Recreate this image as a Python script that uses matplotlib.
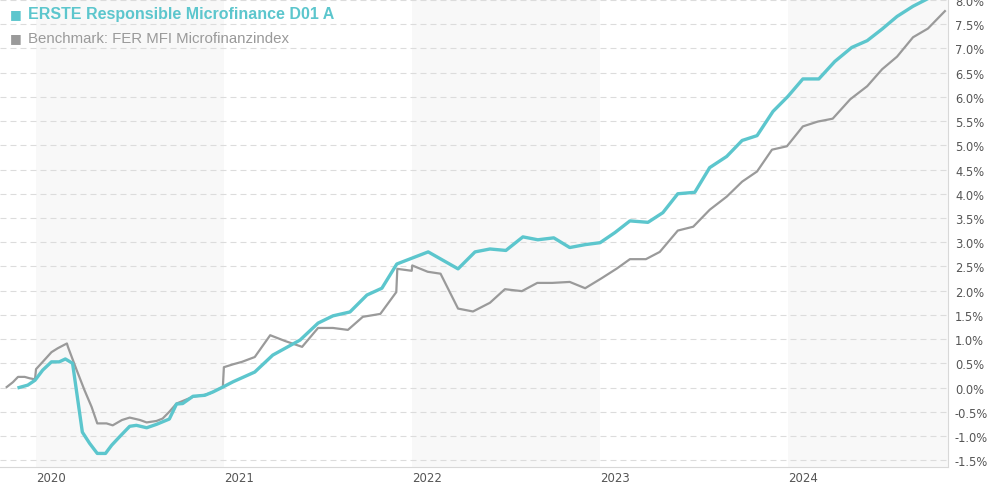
import pandas as pd
import matplotlib
matplotlib.use("Agg")
import matplotlib.pyplot as plt
from matplotlib.ticker import FuncFormatter, MultipleLocator

# Fonds (Wertentwicklung in %)
fund_dates = [
    "2019-11-29", "2019-12-16", "2019-12-30", "2020-01-14", "2020-01-31", "2020-02-15",
    "2020-02-27", "2020-03-12", "2020-03-31", "2020-04-14", "2020-04-29", "2020-05-15",
    "2020-05-27", "2020-06-11", "2020-07-01", "2020-07-14", "2020-08-03", "2020-08-22",
    "2020-09-16", "2020-09-30", "2020-10-12", "2020-11-01", "2020-11-24", "2020-12-10",
    "2020-12-29", "2021-01-18", "2021-03-01", "2021-04-05", "2021-05-28", "2021-07-02",
    "2021-07-31", "2021-09-02", "2021-10-05", "2021-11-03", "2021-12-02", "2022-02-01",
    "2022-03-31", "2022-05-03", "2022-06-01", "2022-07-02", "2022-08-04", "2022-09-02",
    "2022-10-03", "2022-11-03", "2022-12-03", "2023-01-01", "2023-01-30", "2023-02-28",
    "2023-04-04", "2023-05-03", "2023-06-01", "2023-07-04", "2023-08-02", "2023-09-04",
    "2023-10-04", "2023-11-02", "2023-12-03", "2024-01-01", "2024-01-30", "2024-03-01",
    "2024-04-01", "2024-05-04", "2024-06-03", "2024-07-02", "2024-07-31", "2024-08-31",
    "2024-10-03",
]
fund_vals = [
    0.00, 0.05, 0.15, 0.36, 0.53, 0.53,
    0.59, 0.50, -0.92, -1.15, -1.36, -1.36,
    -1.19, -1.02, -0.80, -0.78, -0.83, -0.76,
    -0.65, -0.34, -0.33, -0.18, -0.16, -0.09,
    0.01, 0.12, 0.32, 0.67, 0.98, 1.33,
    1.48, 1.56, 1.91, 2.05, 2.55, 2.80,
    2.45, 2.80, 2.86, 2.83, 3.11, 3.05,
    3.09, 2.89, 2.95, 2.99, 3.20, 3.44,
    3.41, 3.61, 4.00, 4.03, 4.54, 4.77,
    5.10, 5.20, 5.70, 6.01, 6.37, 6.37,
    6.73, 7.02, 7.16, 7.40, 7.66, 7.87,
    8.05,
]

# Benchmark
bench_dates = [
    "2019-11-05", "2019-11-17", "2019-11-27", "2019-12-10", "2019-12-20", "2019-12-30",
    "2020-01-01", "2020-01-14", "2020-01-31", "2020-02-12", "2020-03-01", "2020-03-03",
    "2020-03-20", "2020-04-04", "2020-04-18", "2020-04-29", "2020-05-17", "2020-05-29",
    "2020-06-16", "2020-07-01", "2020-07-21", "2020-08-03", "2020-08-22", "2020-09-03",
    "2020-09-16", "2020-09-30", "2020-10-16", "2020-11-01", "2020-11-20", "2020-12-04",
    "2020-12-17", "2020-12-29", "2020-12-31", "2021-01-18", "2021-02-04", "2021-02-19",
    "2021-03-01", "2021-03-31", "2021-04-29", "2021-06-01", "2021-07-02", "2021-07-31",
    "2021-08-29", "2021-09-27", "2021-10-31", "2021-12-01", "2021-12-03", "2021-12-31",
    "2022-01-01", "2022-01-31", "2022-02-25", "2022-03-31", "2022-04-29", "2022-06-01",
    "2022-06-30", "2022-08-02", "2022-09-01", "2022-09-30", "2022-11-03", "2022-12-03",
    "2023-01-03", "2023-02-03", "2023-02-28", "2023-03-31", "2023-04-27", "2023-06-01",
    "2023-07-01", "2023-08-02", "2023-09-04", "2023-10-04", "2023-11-02", "2023-12-01",
    "2023-12-30", "2024-01-30", "2024-02-28", "2024-03-28", "2024-05-01", "2024-06-03",
    "2024-07-02", "2024-07-31", "2024-08-31", "2024-09-29", "2024-11-01",
]
bench_vals = [
    0.01, 0.11, 0.22, 0.22, 0.19, 0.17,
    0.38, 0.53, 0.73, 0.81, 0.91, 0.84,
    0.36, -0.05, -0.40, -0.74, -0.74, -0.78,
    -0.67, -0.62, -0.67, -0.72, -0.69, -0.64,
    -0.50, -0.33, -0.26, -0.19, -0.16, -0.12,
    -0.05, 0.01, 0.42, 0.48, 0.53, 0.59,
    0.63, 1.08, 0.96, 0.84, 1.23, 1.23,
    1.19, 1.46, 1.52, 1.97, 2.45, 2.41,
    2.52, 2.39, 2.35, 1.63, 1.57, 1.75,
    2.03, 1.99, 2.16, 2.16, 2.18, 2.05,
    2.25, 2.46, 2.65, 2.65, 2.80, 3.24,
    3.32, 3.67, 3.94, 4.25, 4.46, 4.91,
    4.98, 5.39, 5.49, 5.55, 5.95, 6.22,
    6.57, 6.83, 7.23, 7.41, 7.77,
]

fund_name = "ERSTE Responsible Microfinance D01 A"
bench_name = "Benchmark: FER MFI Microfinanzindex"
years = [2020, 2021, 2022, 2023, 2024]

teal = "#5cc6cd"
grey = "#9a9a9a"

plt.rcParams["lines.scale_dashes"] = False

fig = plt.figure(figsize=(9.9, 4.85), dpi=100)
ax = fig.add_axes([0.0, 17 / 485, 948 / 990, 1 - 17 / 485])

# jedes zweite Jahr grau hinterlegt
for y in years[::2]:
    ax.axvspan(pd.Timestamp(f"{y}-01-01"), pd.Timestamp(f"{y + 1}-01-01"),
               color="#f8f8f8", lw=0, zorder=0)

ax.plot(pd.to_datetime(bench_dates), bench_vals, color=grey, lw=1.6, zorder=3,
        solid_joinstyle="round")
ax.plot(pd.to_datetime(fund_dates), fund_vals, color=teal, lw=2.4, zorder=4,
        solid_joinstyle="round")

ax.set_xlim(pd.Timestamp("2019-10-23"), pd.Timestamp("2024-11-07"))
ax.set_ylim(-1.64, 8.02)

ax.yaxis.set_major_locator(MultipleLocator(0.5))
ax.yaxis.set_major_formatter(FuncFormatter(lambda v, p: f"{v:.1f}%"))
ax.yaxis.tick_right()
ax.grid(axis="y", color="#dcdcdc", lw=0.8, dashes=(4.3, 2.9), zorder=1)
ax.tick_params(axis="y", length=0, pad=5, labelsize=8.3, labelcolor="#555555")

ax.set_xticks([pd.Timestamp(f"{y}-01-01") for y in years])
ax.set_xticklabels([str(y) for y in years], ha="left")
ax.tick_params(axis="x", length=0, pad=3, labelsize=8.5, labelcolor="#555555")

for s in ["top", "left"]:
    ax.spines[s].set_visible(False)
ax.spines["bottom"].set_color("#d8d8d8")
ax.spines["right"].set_color("#d8d8d8")

# Legende oben links
fig.text(10 / 990, 1 - 15 / 485, "■", color=teal, fontsize=9,
         va="center", family=["DejaVu Sans"])
fig.text(28 / 990, 1 - 15 / 485, fund_name, color=teal, fontsize=11.5,
         fontweight="bold", va="center", family=["Liberation Sans", "DejaVu Sans"])
fig.text(10 / 990, 1 - 39 / 485, "■", color=grey, fontsize=9,
         va="center", family=["DejaVu Sans"])
fig.text(28 / 990, 1 - 39 / 485, bench_name, color=grey, fontsize=10.8,
         va="center", family=["Liberation Sans", "DejaVu Sans"])

fig.savefig("out.png", dpi=100)
